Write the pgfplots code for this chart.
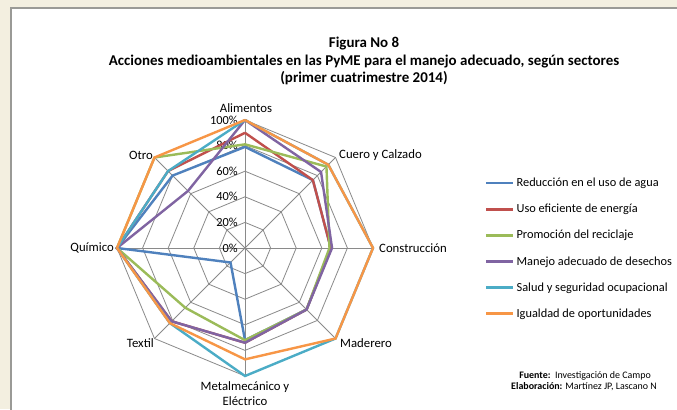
\documentclass[border=0pt]{standalone}
\usepackage{fontspec}
\setmainfont{Carlito}
\usepackage{pgfplots}
\pgfplotsset{compat=1.18}
\usepgfplotslibrary{polar}

\definecolor{sBlue}{HTML}{4F81BD}
\definecolor{sRed}{HTML}{C0504D}
\definecolor{sGreen}{HTML}{9BBB59}
\definecolor{sPurple}{HTML}{8064A2}
\definecolor{sCyan}{HTML}{4BACC6}
\definecolor{sOrange}{HTML}{F79646}
\definecolor{bgc}{HTML}{F3EFE0}
\definecolor{gridc}{HTML}{8A8A8A}
\definecolor{framec}{HTML}{9A9A96}

% sector order: Alimentos, Cuero y Calzado, Construccion, Maderero,
% Metalmecanico, Textil, Quimico, Otro (clockwise from the top)
\begin{document}
\begin{tikzpicture}[x=1bp,y=1bp]
\fill[bgc] (0,0) rectangle (677,409);
\fill[white] (11,0) rectangle (677,401);
\draw[framec, line width=1.3bp] (11,-2) -- (11,401) -- (679,401);

\node[font=\bfseries\fontsize{15}{17.5}\selectfont, align=center] at (364,348)
  {Figura No 8\\Acciones medioambientales en las PyME para el manejo adecuado, según sectores\\(primer cuatrimestre 2014)};

\begin{polaraxis}[
  at={(245bp,161bp)}, anchor=origin,
  scale only axis, width=256bp, height=256bp,
  ymin=0, ymax=100,
  hide axis, clip=false,
  legend cell align=left,
  legend style={at={(1.4375,0.781)}, anchor=north west, draw=none, fill=none,
    font=\fontsize{12.4}{15}\selectfont, row sep=12bp, inner sep=0pt},
  legend image code/.code={\draw[#1, line width=2.4bp] (0bp,0bp) -- (27bp,0bp);},
]
% octagonal grid and spokes
\pgfplotsinvokeforeach{20,40,60,80,100}{
  \addplot[gridc, line width=0.8bp, no markers, forget plot] coordinates {
    (90,#1)(45,#1)(0,#1)(-45,#1)(-90,#1)(-135,#1)(180,#1)(135,#1)(90,#1)};
}
\pgfplotsinvokeforeach{0,45,90,135,180,225,270,315}{
  \addplot[gridc, line width=0.8bp, no markers, forget plot] coordinates {(#1,0)(#1,100)};
}
\pgfplotsinvokeforeach{0,20,40,60,80,100}{
  \node[anchor=east, font=\fontsize{12.4}{14}\selectfont, inner sep=0pt] at (axis cs:90,#1) [xshift=-7bp] {#1\%};
}

\addplot[sBlue, line width=2.4bp, no markers] coordinates {
  (90,79)(45,75)(0,67)(-45,68)(-90,72)(-135,16)(180,100)(135,80)(90,79)};
\addlegendentry{Reducción en el uso de agua}
\addplot[sRed, line width=2.4bp, no markers] coordinates {
  (90,90)(45,75)(0,67)(-45,68)(-90,74)(-135,81)(180,100)(135,85)(90,90)};
\addlegendentry{Uso eficiente de energía}
\addplot[sGreen, line width=2.4bp, no markers] coordinates {
  (90,81)(45,90)(0,66)(-45,68)(-90,72)(-135,66)(180,100)(135,100)(90,81)};
\addlegendentry{Promoción del reciclaje}
\addplot[sPurple, line width=2.4bp, no markers] coordinates {
  (90,100)(45,84)(0,68)(-45,68)(-90,74)(-135,81)(180,100)(135,63)(90,100)};
\addlegendentry{Manejo adecuado de desechos}
\addplot[sCyan, line width=2.4bp, no markers] coordinates {
  (90,100)(45,92)(0,100)(-45,100)(-90,100)(-135,83)(180,100)(135,85)(90,100)};
\addlegendentry{Salud y seguridad ocupacional}
\addplot[sOrange, line width=2.4bp, no markers] coordinates {
  (90,100)(45,92)(0,100)(-45,100)(-90,87)(-135,83)(180,100)(135,100)(90,100)};
\addlegendentry{Igualdad de oportunidades}
\end{polaraxis}

\begin{scope}[every node/.style={font=\fontsize{12.8}{15}\selectfont, inner sep=0pt}]
\node at (246,301) {Alimentos};
\node[anchor=west] at (339,254) {Cuero y Calzado};
\node[anchor=west] at (379,161) {Construcción};
\node[anchor=west] at (340,66) {Maderero};
\node[align=center] at (245,15) {Metalmecánico y\\Eléctrico};
\node[anchor=east] at (154,66) {Textil};
\node[anchor=east] at (114,161) {Químico};
\node[anchor=east] at (153,254) {Otro};
\end{scope}

\node[anchor=east, font=\fontsize{10}{11}\selectfont, inner sep=0pt] at (651,33)
  {\textbf{Fuente:}\ \ Investigación de Campo};
\node[anchor=east, font=\fontsize{10}{11}\selectfont, inner sep=0pt] at (657,22)
  {\textbf{Elaboración:} Martínez JP, Lascano N};

\pgfresetboundingbox
\useasboundingbox (0,0) rectangle (677,409);
\end{tikzpicture}
\end{document}
